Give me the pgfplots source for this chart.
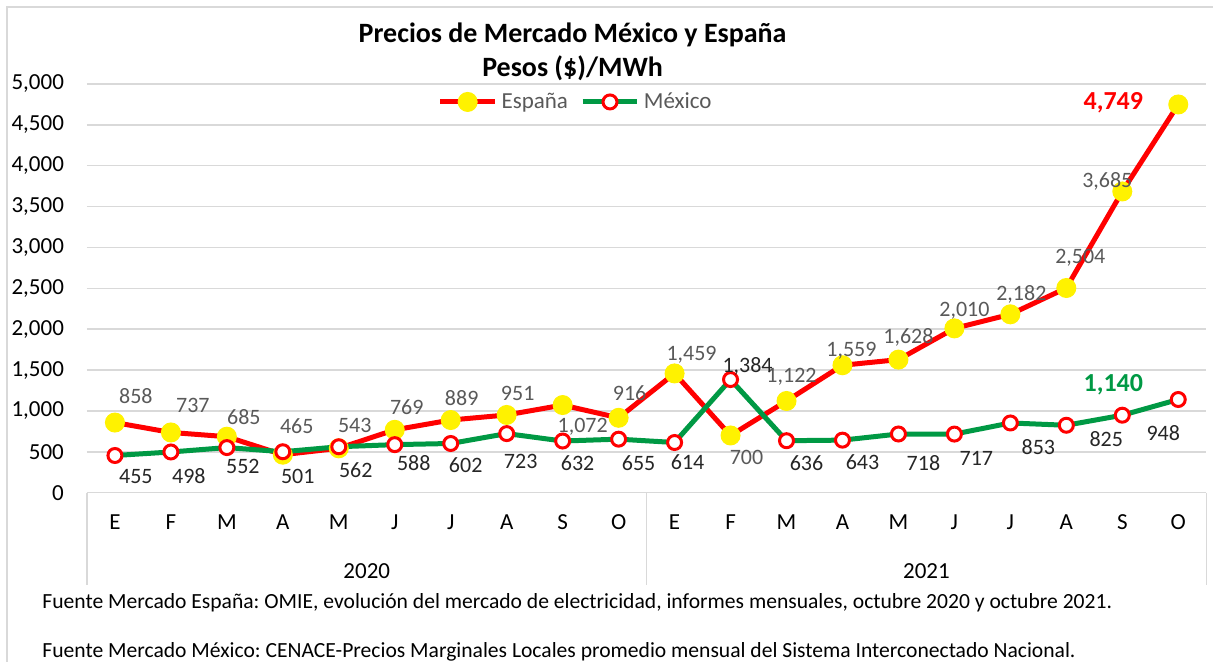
\documentclass[border=0pt]{standalone}
\usepackage{pgfplots}
\pgfplotsset{compat=1.18}
\usepackage{pgfplotstable}
\usepackage{fontspec}
\setmainfont{Carlito}
\frenchspacing

\definecolor{espred}{RGB}{255,0,0}
\definecolor{mexgreen}{RGB}{0,153,68}
\definecolor{gridgray}{RGB}{217,217,217}
\definecolor{labgray}{RGB}{89,89,89}
\definecolor{labdark}{RGB}{38,38,38}

% España: x y label dx dy (label offsets in pt)
\pgfplotstableread{
x  y     lab    dx    dy
0  858   858    10.5  13.5
1  737   737    11    13.5
2  685   685    8.5   10
3  465   465    7     14.5
4  543   543    8     11.5
5  769   769    6     11.5
6  889   889    5.5   11
7  951   951    5.5   11
8  1072  1,072  10    -11
9  916   916    5.5   12.5
10 1459  1,459  8.5   9.5
11 700   700    8     -11
12 1122  1,122  2.5   12
13 1559  1,559  4.5   7
14 1628  1,628  5     11
15 2010  2,010  5     9
16 2182  2,182  5.5   10
17 2504  2,504  7     15
18 3685  3,685  -7.5  5
19 4749  {}     0     0
}\espana

% México
\pgfplotstableread{
x  y     lab    dx    dy
0  455   455    10.5  -10.5
1  498   498    9     -12
2  552   552    8     -9.5
3  501   501    7.5   -12.5
4  562   562    8.5   -11.5
5  588   588    9.5   -9
6  602   602    7.5   -11
7  723   723    7     -14
8  632   632    7.5   -11
9  655   655    10    -12
10 614   614    6.5   -10
11 1384  1,384  8.5   6.5
12 636   636    10    -11
13 643   643    10    -11
14 718   718    12.5  -14.5
15 717   717    11    -12
16 853   853    14    -12
17 825   825    20    -7
18 948   948    20.5  -9
19 1140  {}     0     0
}\mexico

\begin{document}
\begin{tikzpicture}
% pixel frame of the reference: (px,py) with origin top left
\begin{scope}[x=0.5pt, y=-0.5pt, shift={(-43.5pt,246.5pt)}]
  \useasboundingbox (0,0) rectangle (1214,662);
\end{scope}

\begin{axis}[
    at={(0,0)}, anchor=south west,
    scale only axis,
    width=560pt, height=204.5pt,
    xmin=-0.5, xmax=19.5,
    ymin=0, ymax=5000,
    ytick={0,500,...,5000},
    xtick={0,...,19},
    xticklabels={E,F,M,A,M,J,J,A,S,O,E,F,M,A,M,J,J,A,S,O},
    ymajorgrids=true,
    grid style={gridgray, line width=0.75pt},
    axis line style={draw=none},
    major tick length=0pt,
    /pgf/number format/1000 sep={,},
    /pgf/number format/assume math mode=true,
    yticklabel style={font=\fontsize{11.5}{13}\selectfont, text=black, xshift=-8pt},
    xticklabel style={font=\fontsize{11.5}{13}\selectfont, text=black, text height=7pt, yshift=-8pt},
    clip=false,
    legend style={draw=none, fill=none, at={(0.4375,0.956)}, anchor=center,
        legend columns=2, font=\fontsize{11.5}{13}\selectfont, text=labgray,
        /tikz/every even column/.append style={column sep=4pt}},
    legend image code/.code={\draw[#1,mark repeat=2,mark phase=2]
        plot coordinates {(0pt,0pt) (13.75pt,0pt) (27.5pt,0pt)};},
]
\addplot[espred, line width=2.5pt, mark=*, mark size=4.75pt,
    mark options={fill=yellow, draw=yellow, line width=0.5pt},
    nodes near coords, point meta=explicit symbolic,
    visualization depends on={\thisrow{dx} \as \dx},
    visualization depends on={\thisrow{dy} \as \dy},
    every node near coord/.append style={anchor=center, xshift=\dx pt, yshift=\dy pt,
        font=\fontsize{11}{13}\selectfont, text=labgray}]
    table[x=x, y=y, meta=lab] {\espana};
\addlegendentry{España}

\addplot[mexgreen, line width=2.5pt, mark=*, mark size=3.5pt,
    mark options={fill=white, draw=espred, line width=1.5pt},
    nodes near coords, point meta=explicit symbolic,
    visualization depends on={\thisrow{dx} \as \dx},
    visualization depends on={\thisrow{dy} \as \dy},
    every node near coord/.append style={anchor=center, xshift=\dx pt, yshift=\dy pt,
        font=\fontsize{11}{13}\selectfont, text=labdark}]
    table[x=x, y=y, meta=lab] {\mexico};
\addlegendentry{México}

% highlighted last values
\addplot[draw=none, mark=none, forget plot, nodes near coords, point meta=explicit symbolic,
    every node near coord/.append style={anchor=center, xshift=-32.5pt, yshift=0.75pt,
        font=\bfseries\fontsize{13}{15}\selectfont, text=espred}]
    coordinates {(19,4749) [4,749]};
\addplot[draw=none, mark=none, forget plot, nodes near coords, point meta=explicit symbolic,
    every node near coord/.append style={anchor=center, xshift=-32.5pt, yshift=7.5pt,
        font=\bfseries\fontsize{13}{15}\selectfont, text=mexgreen}]
    coordinates {(19,1140) [1,140]};
\end{axis}

\begin{scope}[x=0.5pt, y=-0.5pt, shift={(-43.5pt,246.5pt)}]
  \draw[gridgray, line width=0.75pt] (7,662) -- (7,7) -- (1214,7);
  \draw[gridgray, line width=0.75pt] (87,493) -- (1207,493);
  \draw[gridgray, line width=0.75pt] (87,493) -- (87,585);
  \draw[gridgray, line width=0.75pt] (647,493) -- (647,585);
  \draw[gridgray, line width=0.75pt] (1207,493) -- (1207,585);
  \node[font=\bfseries\fontsize{14}{16}\selectfont] at (573,35) {Precios de Mercado México y España};
  \node[font=\bfseries\fontsize{14}{16}\selectfont] at (573,68) {Pesos (\$)/MWh};
  \node[font=\fontsize{11.5}{13}\selectfont] at (367,571) {2020};
  \node[font=\fontsize{11.5}{13}\selectfont] at (927,571) {2021};
  \node[anchor=west, inner sep=0pt, font=\fontsize{10.8}{12}\selectfont] at (42,603)
    {Fuente Mercado España: OMIE, evolución del mercado de electricidad, informes mensuales, octubre 2020 y octubre 2021.};
  \node[anchor=west, inner sep=0pt, font=\fontsize{10.8}{12}\selectfont] at (42,652)
    {Fuente Mercado México: CENACE-Precios Marginales Locales promedio mensual del Sistema Interconectado Nacional.};
\end{scope}
\end{tikzpicture}
\end{document}
